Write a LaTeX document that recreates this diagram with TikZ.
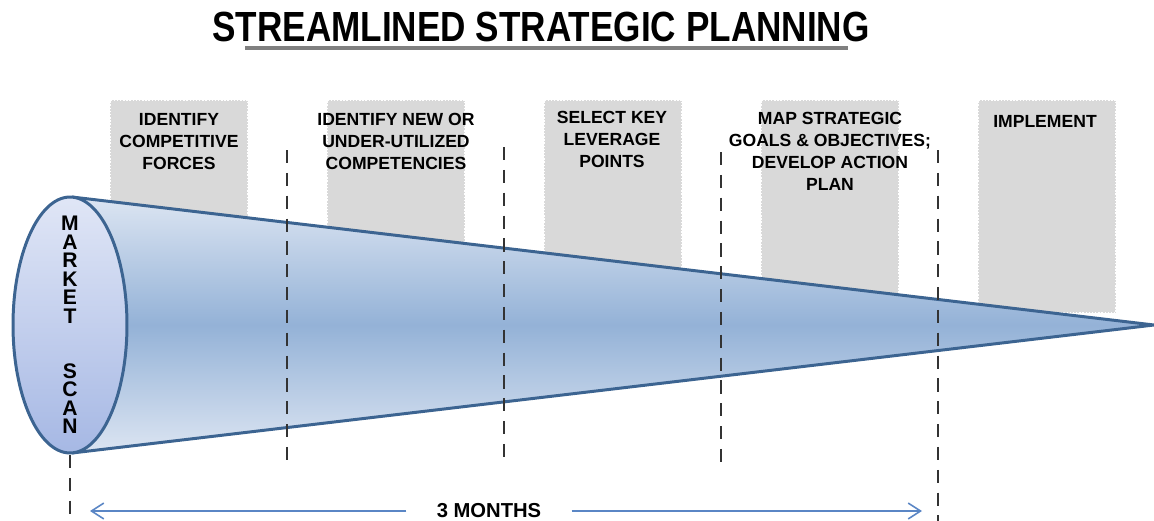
\documentclass[tikz,border=0pt]{standalone}
\usepackage{fontspec}
\usepackage{graphicx}
\setmainfont{Liberation Sans}
\usetikzlibrary{arrows.meta,shapes.geometric}

\definecolor{boxgray}{HTML}{D9D9D9}
\definecolor{coneedge}{HTML}{3C6491}
\definecolor{conelight}{HTML}{DCE5F2}
\definecolor{conemid}{HTML}{94B2D7}
\definecolor{scantop}{HTML}{E0E6F6}
\definecolor{scanbot}{HTML}{A6B8E4}
\definecolor{monthblue}{HTML}{5A86C5}

\tikzset{
  stepbox/.style={fill=boxgray, draw=white, densely dotted, line width=0.8pt,
    minimum width=2.76cm, minimum height=4.26cm, inner sep=0pt},
  steptext/.style={font=\bfseries\fontsize{10}{12.5}\selectfont, align=center,
    anchor=north, inner sep=0pt},
  phaseline/.style={black!80, line width=1.3pt, dash pattern=on 7.5pt off 5.5pt},
  monthline/.style={monthblue, line width=0.9pt,
    -{Straight Barb[length=7pt,width=9pt]}},
}

\begin{document}
\begin{tikzpicture}[x=0.02cm,y=-0.02cm]
  \useasboundingbox (0,0) rectangle (1154,521);

  \node[font=\bfseries\fontsize{20}{24}\selectfont, inner sep=0pt] (title) at (541,27)
    {\scalebox{1}[1.2]{STREAMLINED STRATEGIC PLANNING}};
  \coordinate (ulleft) at (245,48);
  \coordinate (ulright) at (848,48);
  \draw[black!50, line width=2.2pt] (ulleft) -- (ulright);

  \node[stepbox] (box1) at (179,206.5) {};
  \node[stepbox] (box2) at (396,206.5) {};
  \node[stepbox] (box3) at (613,206.5) {};
  \node[stepbox] (box4) at (830,206.5) {};
  \node[stepbox] (box5) at (1047,206.5) {};

  \coordinate (conetop) at (72,197);
  \coordinate (conebot) at (72,453);
  \coordinate (tip) at (1154,325);
  \shade[top color=conelight, bottom color=conelight, middle color=conemid]
    (conetop) -- (tip) -- (conebot) -- cycle;
  \draw[coneedge, line width=1.7pt, line join=round] (conetop) -- (tip) -- (conebot);

  \node[ellipse, draw=coneedge, line width=1.7pt, top color=scantop, bottom color=scanbot,
    minimum width=2.28cm, minimum height=5.12cm, inner sep=0pt] (scan) at (70,325) {};
  \node[font=\bfseries\fontsize{12}{10.5}\selectfont, align=center, inner sep=0pt]
    (scantext) at (70,325) {M\\A\\R\\K\\E\\T\\[21pt]S\\C\\A\\N};

  \draw[phaseline] (70,455) -- (70,521);
  \draw[phaseline] (287,150) -- (287,468);
  \draw[phaseline] (504,147) -- (504,462);
  \draw[phaseline] (721,152) -- (721,468);
  \draw[phaseline] (938,150) -- (938,521);

  \node[steptext] (step1) at (179,113) {IDENTIFY\\COMPETITIVE\\FORCES};
  \node[steptext] (step2) at (396,113) {IDENTIFY NEW OR\\UNDER-UTILIZED\\COMPETENCIES};
  \node[steptext] (step3) at (612,111) {SELECT KEY\\LEVERAGE\\POINTS};
  \node[steptext] (step4) at (830,112) {MAP STRATEGIC\\GOALS \& OBJECTIVES;\\DEVELOP ACTION\\PLAN};
  \node[steptext] (step5) at (1045,115) {IMPLEMENT};

  \coordinate (mstart) at (90,511);
  \coordinate (mend) at (922,511);
  \node[font=\bfseries\fontsize{11.5}{14}\selectfont, inner xsep=0.6cm, inner ysep=0pt]
    (months) at (489,511) {3 MONTHS};
  \draw[monthline] (months) -- (mstart);
  \draw[monthline] (months) -- (mend);
\end{tikzpicture}
\end{document}
